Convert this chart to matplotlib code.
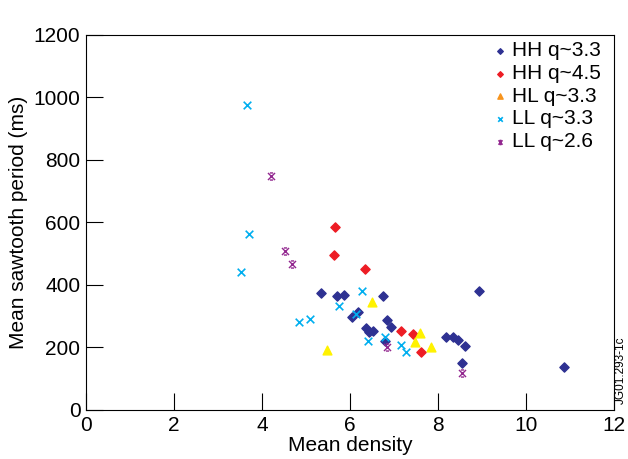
import numpy as np
import matplotlib.pyplot as plt
from matplotlib.path import Path

plt.rcParams['font.family'] = ['Liberation Sans', 'DejaVu Sans']

# HH q~3.3
hh33_x = [5.34, 5.71, 5.86, 6.75, 6.05, 6.18, 6.37, 6.42, 6.53, 6.83, 6.92, 6.80,
          8.17, 8.33, 8.45, 8.60, 8.54, 8.92, 10.87]
hh33_y = [374, 364, 367, 366, 299, 312, 263, 250, 254, 287, 266, 221,
          235, 233, 225, 206, 149, 382, 138]
# HH q~4.5
hh45_x = [5.66, 5.63, 6.33, 7.16, 7.42, 7.62]
hh45_y = [587, 497, 452, 253, 243, 187]
# HL q~3.3
hl33_x = [6.49, 5.48, 7.58, 7.48, 7.83]
hl33_y = [346, 192, 246, 218, 202]
# LL q~3.3
ll33_x = [3.65, 3.71, 3.51, 6.28, 5.75, 5.10, 4.83, 6.13, 6.41, 6.80, 7.16, 7.28]
ll33_y = [976, 562, 441, 381, 334, 292, 282, 308, 221, 233, 209, 186]
# LL q~2.6
ll26_x = [4.20, 4.51, 4.69, 6.83, 8.55]
ll26_y = [750, 510, 467, 200, 118]

# x with short bars top and bottom
verts = [(-1, -1), (1, 1), (-1, 1), (1, -1), (-0.45, 1), (0.45, 1), (-0.45, -1), (0.45, -1)]
codes = [Path.MOVETO, Path.LINETO] * 4
star_x = Path(verts, codes)

fig = plt.figure(figsize=(6.28, 4.59), dpi=100)
ax = fig.add_axes([0.137, 0.1068, 0.841, 0.817])

ax.scatter(hh33_x, hh33_y, marker='D', s=22, color='#2e3192', label='HH q~3.3', zorder=3)
ax.scatter(hh45_x, hh45_y, marker='D', s=22, color='#ed1c24', label='HH q~4.5', zorder=3)
ax.scatter(hl33_x, hl33_y, marker='^', s=40, color='#fff200', label='HL q~3.3', zorder=3)
ax.scatter(ll33_x, ll33_y, marker='x', s=30, color='#00aeef', linewidths=1.2,
           label='LL q~3.3', zorder=3)
ax.scatter(ll26_x, ll26_y, marker=star_x, s=26, color='#92278f', linewidths=1.0,
           label='LL q~2.6', zorder=3)

ax.set_xlim(0, 12)
ax.set_ylim(0, 1200)
ax.set_xticks(np.arange(0, 13, 2))
ax.set_yticks(np.arange(0, 1201, 200))
ax.tick_params(direction='in', length=12, width=0.8, labelsize=15, pad=4)
for sp in ax.spines.values():
    sp.set_linewidth(0.8)

ax.set_xlabel('Mean density', fontsize=15, labelpad=1)
ax.set_ylabel('Mean sawtooth period (ms)', fontsize=15, labelpad=4)

leg = ax.legend(loc='upper right', bbox_to_anchor=(0.987, 1.0), frameon=False,
                fontsize=15, handletextpad=0.1, handlelength=1.0, labelspacing=0.18,
                borderaxespad=0.2, borderpad=0.1, markerscale=0.6)
for h in leg.legend_handles:
    if h.get_label() == 'HL q~3.3':
        h.set_color('#f7941d')

fig.text(0.988, 0.12, 'JG01.293-1c', rotation=90, fontsize=8.5, ha='center', va='bottom')

fig.savefig('out.png', dpi=100)
